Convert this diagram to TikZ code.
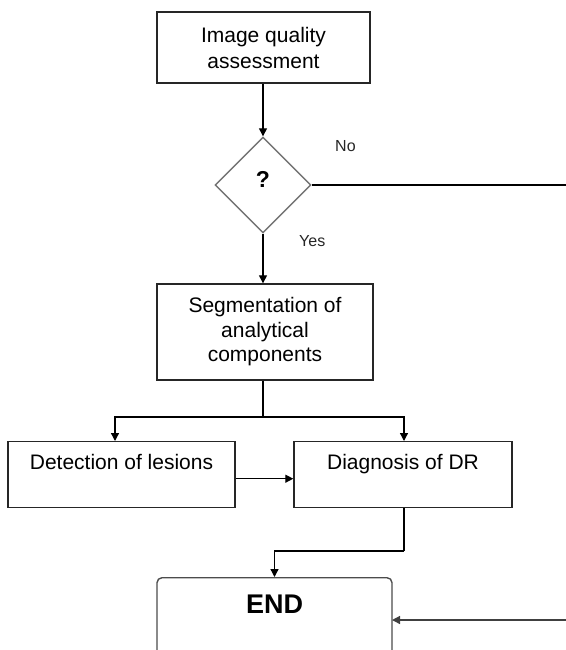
\documentclass[tikz,border=0pt]{standalone}
\usepackage{fontspec}
\setmainfont{Liberation Sans}
\usetikzlibrary{shapes.geometric,arrows.meta}
\begin{document}
\begin{tikzpicture}[x=1pt,y=-1pt,
  box/.style={draw=black!85,line width=1.4pt,rectangle,inner sep=0pt,align=center,
    font=\fontsize{21}{26}\selectfont},
  decision/.style={draw=black!55,line width=1.4pt,diamond,aspect=1,inner sep=0pt,
    minimum width=96pt,minimum height=96pt},
  endbox/.style={draw=black!70,line width=1.4pt,rectangle,rounded corners=5pt,inner sep=0pt,
    font=\fontsize{27}{30}\selectfont\bfseries},
  conn/.style={draw=black,line width=1.3pt},
  arr/.style={conn,-{Triangle[length=8pt,width=8pt]}},
  lbl/.style={font=\fontsize{16}{18}\selectfont,text=black!85,inner sep=0pt}
]
\useasboundingbox (0,0) rectangle (565,650);

\node[box,minimum width=213pt,minimum height=71pt] (top) at (263.5,47.5)
  {Image quality\\assessment};
\node[decision] (dia) at (263,185) {};
\node[inner sep=0pt,font=\fontsize{23}{26}\selectfont\bfseries] (q) at (263,179) {?};
\node[lbl,anchor=west] (no) at (335,146) {No};
\node[lbl,anchor=west] (yes) at (299,241) {Yes};

\node[box,minimum width=216pt,minimum height=96pt,
  font=\fontsize{21}{24.5}\selectfont] (seg) at (265,332)
  {Segmentation of\\analytical\\components};

\node[box,minimum width=227pt,text height=28pt,text depth=38pt,anchor=north] (det) at (121.5,441)
  {Detection of lesions};
\node[box,minimum width=218pt,text height=28pt,text depth=38pt,anchor=north] (diag) at (403,441)
  {Diagnosis of DR};

\node[endbox,minimum width=235pt,text height=36pt,text depth=50pt,anchor=north] (end) at (274.5,577)
  {END};

\coordinate (split) at (263,417);
\coordinate (dtop) at (115,441);
\coordinate (gtop) at (404,441);
\coordinate (gbend) at (404,551);
\coordinate (rtop) at (580,185);
\coordinate (rbot) at (580,620);
\coordinate (eright) at (392,620);

\draw[arr] (top.south -| dia.north) -- (dia.north);
\draw[arr] (dia.south) -- (dia.south |- seg.north);
\draw[conn] (dia.south |- seg.south) -- (split);
\draw[arr] (split) -| (dtop);
\draw[arr] (split) -| (gtop);
\draw[arr] ([yshift=-4pt]det.east) -- ([yshift=-4pt]diag.west);
\draw[conn] (diag.south -| gbend) -- (gbend);
\draw[arr] (gbend) -| (end.north);
\draw[conn] (dia.east) -- (rtop) -- (rbot);
\draw[arr,draw=black!75] (rbot) -- (eright);
\end{tikzpicture}
\end{document}
